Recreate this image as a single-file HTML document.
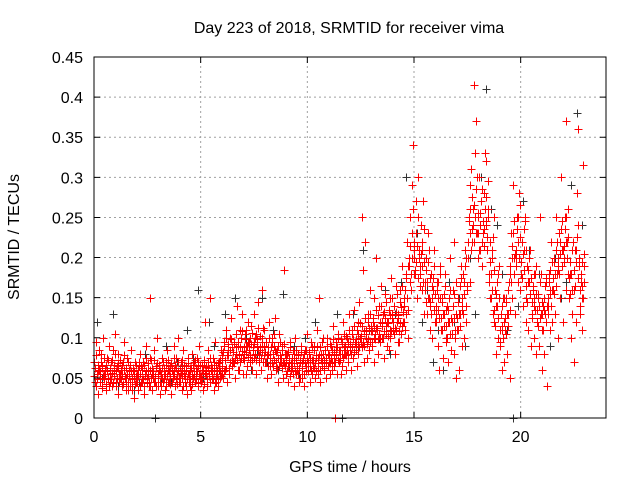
<!DOCTYPE html>
<html><head><meta charset="utf-8"><style>
body{margin:0;background:#fff;}
svg text{font-family:"Liberation Sans",sans-serif;fill:#000;}
</style></head><body>
<svg id="chart" width="640" height="480" viewBox="0 0 640 480">
<rect width="640" height="480" fill="#fff"/>
<text x="349" y="33" font-size="16" text-anchor="middle">Day 223 of 2018, SRMTID for receiver vima</text>
<text x="350" y="472" font-size="16" text-anchor="middle">GPS time / hours</text>
<text transform="translate(19,237) rotate(-90)" font-size="16" text-anchor="middle">SRMTID / TECUs</text>
<g id="grid"></g><g id="black"></g><g id="red"></g><g id="axes"></g>
</svg>
<script>
const xTicks=[0,5,10,15,20];
const yTicks=[0,0.05,0.1,0.15,0.2,0.25,0.3,0.35,0.4,0.45];
const yTickLabels=["0","0.05","0.1","0.15","0.2","0.25","0.3","0.35","0.4","0.45"];
const binWidthRed=0.25;
const redBins=[
[70,45,95,55,30,60],[50,80,40,65,100,55],[60,35,75,50,90,45],[55,70,40,85,60,105],
[45,65,30,80,55,50],[60,40,70,95,50,35],[50,75,35,60,45,85],[40,60,25,55,70,45],
[55,35,65,80,45,60],[45,70,30,55,90,50],[60,40,150,75,50,35],[50,85,45,65,100,55],
[40,60,30,55,75,45],[55,35,70,45,85,60],[45,65,30,60,50,90],[60,40,75,55,100,45],
[50,70,35,60,85,55],[45,65,30,75,55,40],[60,35,80,50,70,45],[55,75,40,65,90,50],
[45,60,35,70,120,55],[65,40,85,55,150,60],[50,75,35,60,95,45],[60,40,70,50,85,55],
[75,50,95,60,110,45],[85,55,100,70,125,65],[70,95,50,80,140,60],[90,60,110,75,130,55],
[80,105,55,90,65,120],[95,70,115,60,85,130],[75,100,55,90,145,70],[85,60,160,100,70,110],
[70,95,50,80,120,65],[80,55,100,65,90,125],[60,85,45,75,105,70],[70,90,50,185,65,80],
[55,80,45,70,95,60],[65,85,40,75,100,55],[60,80,45,70,90,55],[50,75,40,85,65,105],
[60,80,45,70,95,55],[65,90,50,75,110,60],[55,150,45,80,70,100],[60,85,50,70,100,65],
[70,55,90,60,115,75],[65,0,85,55,105,70],[75,55,95,65,120,80],[80,60,100,70,130,90],
[85,60,110,75,135,95],[90,65,120,80,145,100],[95,250,185,70,220,110],[100,75,130,85,160,115],
[90,120,70,150,105,200],[110,80,140,95,165,120],[100,130,75,155,115,90],[120,85,150,100,175,130],
[110,140,80,165,120,95],[130,95,160,105,190,120],[150,110,180,130,220,100],[200,250,160,290,340,180],
[220,180,270,150,300,200],[190,240,160,210,270,130],[170,200,130,230,150,110],[140,180,100,160,210,120],
[130,170,90,150,60,190],[110,150,75,130,180,95],[100,140,70,120,200,85],[120,160,80,220,100,50],
[110,150,60,130,190,90],[140,180,100,210,120,160],[200,250,170,290,310,220],[260,415,330,370,230,200],
[250,300,210,270,190,230],[280,330,240,320,210,260],[180,220,150,200,130,250],[120,160,80,140,100,190],
[90,130,60,110,150,70],[110,150,80,130,170,50],[180,230,150,290,200,130],[200,250,170,220,280,160],
[180,220,140,210,250,120],[150,190,110,170,210,90],[130,160,100,140,180,80],[120,150,90,250,130,60],
[110,140,80,130,170,40],[140,180,110,160,220,120],[160,200,130,250,180,100],[190,230,150,300,210,120],
[200,250,160,370,220,180],[150,180,100,130,220,70],[160,210,120,280,360,190],[130,170,110,150,315,190]
];
const redBins2=[
[52,62,40,78,48,66,58,85],[45,58,70,38,62,52,75,48],[55,42,66,58,48,72,40,62],[62,48,56,72,44,66,52,80],
[58,40,50,68,62,45,72,55],[48,66,55,42,78,60,52,45],[62,55,45,70,52,40,66,58],[50,35,62,48,58,42,66,52],
[45,60,52,70,40,55,65,48],[62,48,40,66,52,75,58,44],[52,68,45,60,40,72,55,62],[58,45,72,52,62,40,68,50],
[52,66,45,58,40,62,50,70],[48,62,55,40,66,52,72,45],[58,42,52,68,45,62,55,75],[52,66,48,62,42,70,58,50],
[62,45,56,72,50,40,66,58],[52,40,60,48,68,55,45,62],[48,62,55,42,66,58,52,72],[62,48,58,70,44,55,66,52],
[52,66,48,60,42,72,56,64],[58,48,70,62,52,75,45,66],[62,55,48,70,58,44,66,52],[55,68,48,62,72,58,52,78],
[65,82,58,90,72,62,100,78],[78,92,62,85,70,98,88,72],[82,68,92,75,105,88,72,95],[95,78,88,70,100,84,108,75],
[88,72,98,82,110,90,76,95],[85,100,78,92,72,106,88,95],[92,80,105,72,98,85,112,78],[88,102,75,95,82,112,90,78],
[82,70,95,78,88,65,100,75],[75,88,68,95,80,72,105,85],[70,82,62,90,75,65,95,78],[75,62,85,70,92,68,80,72],
[70,58,82,65,75,52,88,68],[62,75,55,80,68,58,85,72],[65,55,78,62,72,50,82,68],[62,72,55,80,68,58,85,75],
[70,58,82,65,75,60,88,72],[72,62,85,68,78,58,90,75],[68,78,60,88,72,65,95,80],[72,62,85,75,68,90,80,65],
[78,68,92,75,85,70,98,82],[80,70,95,78,88,72,100,85],[85,72,98,80,92,75,105,88],[90,78,102,85,95,80,110,92],
[92,80,105,88,98,82,115,95],[98,85,110,92,105,88,118,100],[102,88,115,95,108,90,125,105],[105,92,120,98,112,95,130,108],
[108,95,125,100,115,98,135,112],[112,98,128,105,120,100,140,118],[115,100,132,108,125,105,145,120],[118,102,135,110,128,108,150,125],
[120,105,140,112,132,110,155,128],[125,108,145,118,138,115,165,132],[140,120,160,130,175,150,190,135],[190,170,215,180,230,200,260,210],
[200,185,230,195,215,175,250,210],[180,165,205,190,220,170,235,195],[160,145,185,170,195,150,210,175],[145,130,165,150,175,135,190,155],
[140,120,160,135,170,125,180,150],[125,110,145,130,155,115,165,135],[115,100,135,120,150,105,160,125],[120,105,140,125,155,110,170,130],
[125,110,145,130,165,115,175,135],[150,130,170,155,190,140,200,165],[220,200,245,230,260,210,275,235],[240,220,265,250,285,230,300,255],
[230,210,255,240,270,220,285,245],[235,215,260,245,275,225,295,250],[170,150,195,180,210,160,225,185],[135,115,155,140,170,125,180,150],
[110,95,130,115,140,100,150,120],[125,105,145,130,160,115,170,135],[190,170,215,200,230,180,245,205],[210,190,235,220,250,200,265,225],
[195,175,220,205,235,185,245,210],[165,145,185,170,200,155,210,175],[145,125,165,150,180,135,190,155],[135,115,155,140,170,125,180,145],
[130,110,150,135,165,120,175,140],[150,130,170,155,185,140,195,160],[175,155,195,180,210,165,220,185],[200,180,220,205,235,190,245,210],
[215,195,235,220,250,200,260,225],[175,155,195,180,210,160,220,185],[185,165,210,195,225,175,240,200],[160,140,180,165,195,150,205,170]
];
const binWidthBlack=0.5;
const blackBins=[
[120,50],[60,130],[40,70],[55,35],[45,80],[60,0],[50,90],[45,70],[65,110],[75,160],
[50,120],[90,60],[130,70],[150,100],[100,60],[80,150],[70,110],[60,155],[65,90],[55,100],
[70,120],[80,50],[90,130],[0,100],[130,90],[210,110],[150,100],[160,80],[130,170],[300,180],
[230,120],[160,70],[110,60],[170,120],[150,90],[200,130],[300,410],[260,240],[180,110],
[0,140],[270,210],[150,180],[130,90],[200,150],[170,290],[380,240]
];
const X0=94,X1=606,Y0=418,Y1=57,XMAX=24,YMAX=0.45;
const xs=v=>X0+(X1-X0)*v/XMAX;
const ys=v=>Y0-(Y0-Y1)*v/YMAX;
const NS="http://www.w3.org/2000/svg";
function mk(tag,attrs,parent){const e=document.createElementNS(NS,tag);for(const k in attrs)e.setAttribute(k,attrs[k]);parent.appendChild(e);return e;}
const grid=document.getElementById('grid'),axes=document.getElementById('axes');
xTicks.forEach(t=>{
 const x=xs(t);
 if(t>0){const g=mk('line',{x1:x,x2:x,y1:Y0,y2:Y1,stroke:'#a0a0a0','stroke-dasharray':'2,3','stroke-width':1},grid);
 
 }
 const tk=mk('path',{d:`M${x},${Y0}v-6M${x},${Y1}v6`,stroke:'#000'},axes);
 
 
 const lb=mk('text',{x:x,y:Y0+24,'font-size':16,'text-anchor':'middle'},axes);lb.textContent=String(t);
 
 
});
yTicks.forEach((t,i)=>{
 const y=ys(t);
 if(t>0&&t<YMAX){const g=mk('line',{x1:X0,x2:X1,y1:y,y2:y,stroke:'#a0a0a0','stroke-dasharray':'2,3','stroke-width':1},grid);
 
 }
 const tk=mk('path',{d:`M${X0},${y}h6M${X1},${y}h-6`,stroke:'#000'},axes);
 
 
 const lb=mk('text',{x:X0-11,y:y+6,'font-size':16,'text-anchor':'end'},axes);lb.textContent=yTickLabels[i];
 
 
});
const frame=mk('rect',{x:X0,y:Y1,width:X1-X0,height:Y0-Y1,fill:'none',stroke:'#000','stroke-width':1},axes);


function drawSeries(bins,w,color,gid,name){
 const g=document.getElementById(gid);let d='';
 bins.forEach((vals,b)=>{vals.forEach((v,j)=>{
   const t=b*w+(j+0.5)*w/vals.length;
   const x=Math.round(xs(t))+0.5,y=Math.round(ys(v/1000))+0.5;
   d+=`M${x-4},${y}h8M${x},${y-4}v8`;
 });});
 const p=mk('path',{d:d,stroke:color,'stroke-width':1,fill:'none'},g);
 
 
}
drawSeries(blackBins,binWidthBlack,'#333','black','black-points');
drawSeries(redBins,binWidthRed,'#ff0000','red','red-points');
drawSeries(redBins2,binWidthRed,'#ff0000','red','red-points-dense');
</script>
</body></html>
